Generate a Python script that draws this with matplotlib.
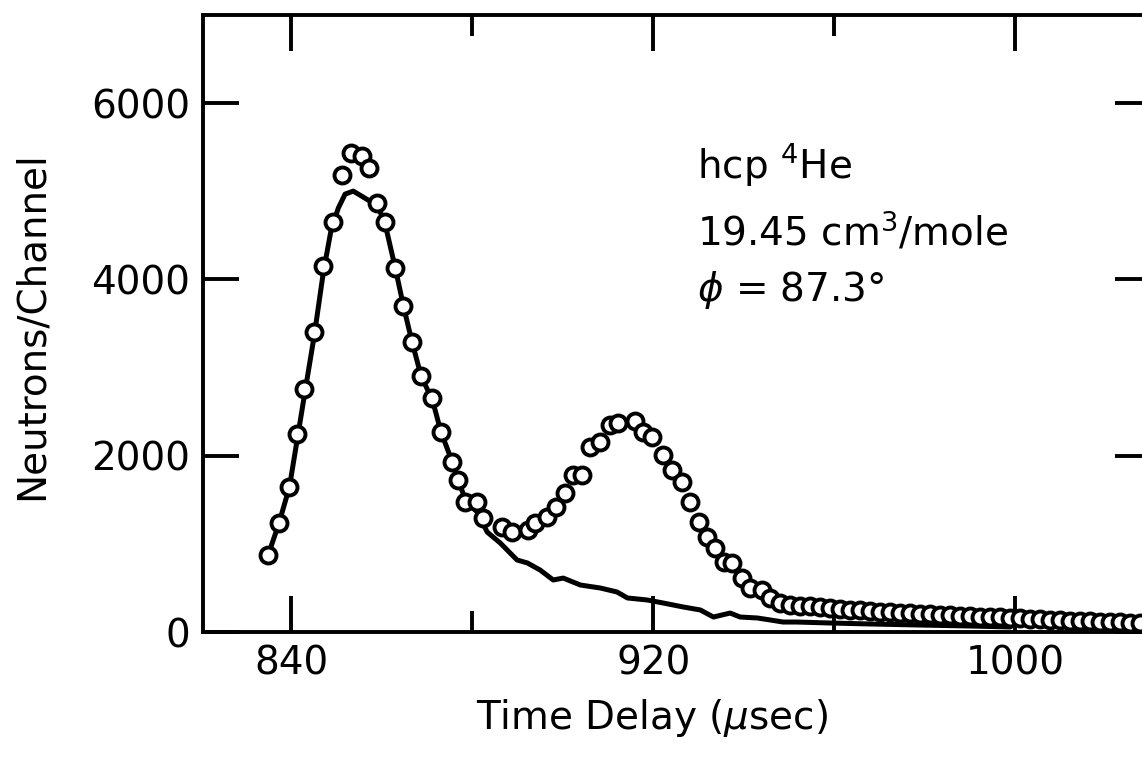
import matplotlib
matplotlib.use("Agg")
import matplotlib.pyplot as plt

plt.rcParams['font.family'] = ['DejaVu Sans']
plt.rcParams['mathtext.fontset'] = 'dejavusans'

# Observed data (open circles): time delay (usec) and neutrons/channel
obs_x = [834.9, 837.3, 839.6, 841.3, 842.9, 845.1, 847.1, 849.3, 851.3, 853.3,
         855.7, 857.2, 859.0, 860.8, 863.0, 864.8, 866.7, 868.7, 871.2, 873.1,
         875.6, 876.9, 878.5, 881.1, 882.4, 886.6, 888.8, 892.4, 893.9, 896.6,
         898.6, 900.6, 902.3, 904.3, 906.1, 908.3, 910.5, 912.3, 916.0, 917.8,
         919.8, 922.2, 924.2, 926.4, 928.2, 930.2, 931.9, 933.7, 935.7, 937.5,
         939.7, 941.4, 944.1, 945.9, 948.1, 950.3, 952.5, 954.7, 956.9, 959.1,
         961.3, 963.5, 965.7, 968.0, 970.2, 972.4, 974.6, 976.8, 979.0, 981.2,
         983.4, 985.6, 987.8, 990.1, 992.3, 994.5, 996.7, 998.9, 1001.1, 1003.3,
         1005.5, 1007.7, 1009.9, 1012.2, 1014.4, 1016.6, 1018.8, 1021.0, 1023.2,
         1025.4, 1027.6]
obs_y = [873, 1236, 1645, 2246, 2756, 3403, 4151, 4650, 5183, 5433,
         5399, 5263, 4866, 4650, 4128, 3697, 3289, 2904, 2654, 2268,
         1928, 1724, 1474, 1474, 1293, 1191, 1134, 1157, 1236, 1304,
         1418, 1576, 1781, 1781, 2098, 2155, 2348, 2370, 2393, 2268,
         2212, 2007, 1837, 1701, 1474, 1248, 1077, 953, 794, 783,
         612, 499, 476, 386, 329, 306, 300, 290, 280, 272,
         262, 255, 248, 240, 232, 226, 220, 213, 207, 200,
         195, 190, 185, 180, 175, 170, 165, 160, 155, 150,
         145, 140, 135, 130, 125, 120, 117, 113, 110,
         106, 103]

# Solid curve
line_x = [834.9, 837.3, 839.6, 841.3, 843.1, 845.1, 847.1, 848.8, 850.4, 851.9,
          853.7, 855.2, 857.0, 859.0, 860.8, 863.0, 864.8, 866.7, 868.7, 871.2,
          873.1, 875.6, 876.9, 878.5, 881.1, 883.3, 886.2, 889.9, 892.2, 895.0,
          897.9, 900.1, 903.9, 908.3, 912.0, 914.3, 918.7, 922.2, 926.6, 930.4,
          933.3, 937.0, 939.2, 943.0, 945.9, 948.7, 951.8, 959.1, 968.0, 979.0,
          990.1, 998.9]
line_y = [873, 1236, 1645, 2178, 2745, 3368, 4083, 4559, 4809, 4968,
          5002, 4956, 4900, 4854, 4616, 4128, 3697, 3289, 2904, 2631,
          2268, 1928, 1724, 1497, 1361, 1134, 1009, 817, 783, 703,
          590, 612, 533, 499, 454, 386, 363, 329, 284, 250,
          170, 215, 170, 159, 136, 113, 113, 102, 91, 79,
          68, 57]

x_major = [840, 920, 1000]
x_minor = [880, 960]
y_ticks = [0, 2000, 4000, 6000]

W, H = 1142, 758
fig = plt.figure(figsize=(W / 100, H / 100), dpi=100)
ax = fig.add_axes([203 / W, 1 - 632 / H, (1151 - 203) / W, (632 - 15) / H])

ax.plot(line_x, line_y, color='black', lw=3.6, zorder=2,
        solid_joinstyle='round', solid_capstyle='round')
ax.plot(obs_x, obs_y, 'o', ms=11.5, mfc='white', mec='black', mew=2.8, zorder=3)

ax.set_xlim(820.5, 1030)
ax.set_ylim(0, 7000)
ax.set_xticks(x_major)
ax.set_xticks(x_minor, minor=True)
ax.set_yticks(y_ticks)
ax.set_xticklabels([str(v) for v in x_major])
ax.set_yticklabels([str(v) for v in y_ticks])

ax.tick_params(which='major', direction='in', length=26, width=2.8,
               top=True, right=True, labelsize=28, pad=9)
ax.tick_params(which='minor', direction='in', length=15, width=2.8, top=True)
for s in ax.spines.values():
    s.set_linewidth(2.8)

fs = 28
fig.text(697 / W, 1 - 165 / H, r'hcp $^{4}$He', fontsize=fs, va='center')
fig.text(697 / W, 1 - 232 / H, r'19.45 cm$^{3}$/mole', fontsize=fs, va='center')
fig.text(697 / W, 1 - 290 / H, r'$\phi$ = 87.3°', fontsize=fs, va='center')

fig.text(652 / W, 1 - 718 / H, r'Time Delay ($\mu$sec)', fontsize=fs,
         ha='center', va='center')
fig.text(32 / W, 1 - 326 / H, 'Neutrons/Channel', fontsize=28, rotation=90,
         ha='center', va='center')

fig.savefig('out.png', dpi=100, facecolor='white')
